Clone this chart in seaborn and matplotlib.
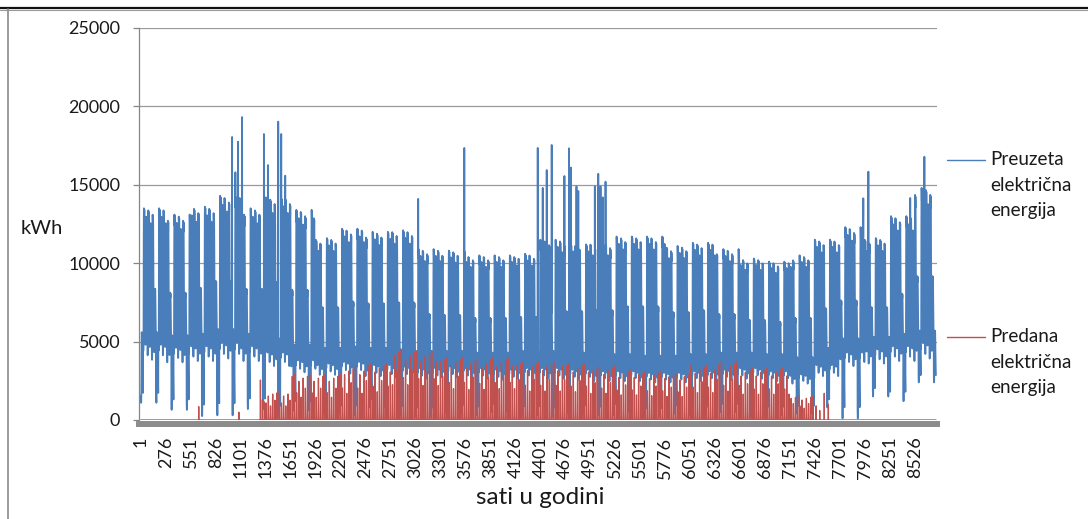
import matplotlib
matplotlib.use("Agg")
import matplotlib.pyplot as plt
import numpy as np
import pandas as pd
import seaborn as sns
from matplotlib.lines import Line2D

# category labels on the x axis (Excel shows every 275th hour)
hour_labels = [1, 276, 551, 826, 1101, 1376, 1651, 1926, 2201, 2476, 2751, 3026,
               3301, 3576, 3851, 4126, 4401, 4676, 4951, 5226, 5501, 5776, 6051,
               6326, 6601, 6876, 7151, 7426, 7701, 7976, 8251, 8526]

# values, one per 275-hour block (between two x labels)
peak_kwh = [13500, 13100, 13600, 14300, 13500, 14200, 13400, 11600, 12200, 12000,
            12100, 10900, 10800, 10500, 10500, 10600, 11500, 11200, 11300, 11700,
            11700, 11100, 11300, 10900, 10300, 10100, 10500, 11500, 12300, 11600,
            13000, 14800]
base_kwh = [4800, 4600, 4700, 4900, 4700, 4300, 3800, 3600, 3700, 3500, 3400, 3300,
            3400, 3300, 3200, 3300, 3300, 3200, 3100, 3100, 3000, 3000, 3100, 3200,
            3300, 3100, 2900, 3500, 4300, 4500, 4700, 4900]
sunday_peak_kwh = [5600, 5400, 5500, 5800, 5500, 5200, 4800, 4600, 4700, 4600, 4500,
                   4400, 4400, 4300, 4300, 4400, 4400, 4300, 4200, 4200, 4100, 4100,
                   4200, 4300, 4300, 4200, 4000, 4600, 5200, 5300, 5500, 5700]
dip_kwh = [1100, 650, 250, 300, 700, 200, 600, 400, 300, 800, 300, 200, 400, 300, 500,
           300, 200, 400, 300, 500, 200, 400, 300, 500, 200, 300, 400, 800, 100, 1500,
           1200, 2400]

# day-of-week differences (sunday first): share of the block peak and of the night low
week_peak_share = [0.0, 1.0, 0.96, 0.99, 0.93, 0.97, 0.62]
week_low_share = [0.0, 0.92, 1.0, 0.86, 0.97, 0.8, 0.9]

# typical day, share of the swing from night low to day peak
day_shape = [0.10, 0.04, 0.0, 0.0, 0.04, 0.18, 0.45, 0.78, 0.95, 1.0, 0.98, 0.96,
             0.92, 0.95, 0.99, 0.94, 0.85, 0.72, 0.58, 0.48, 0.38, 0.28, 0.20, 0.14]

# single hours that stick out of the blue envelope
spike_hours = [1006, 1042, 1072, 1116, 1356, 1400, 1514, 1547, 1591, 3056, 3564,
               4373, 4428, 4472, 4527, 4667, 4718, 4740, 4800, 4820, 5002, 5040,
               5065, 5090, 5120, 7960, 8016, 8477, 8633]
spike_kwh = [18050, 15800, 17750, 19320, 18240, 16260, 19030, 18240, 15580, 14100,
             17350, 17350, 14800, 15940, 17540, 15560, 17330, 16100, 14900, 14600,
             14900, 15700, 14900, 14200, 15200, 14140, 15840, 14160, 16790]

# exported energy, daily midday peak per block
export_kwh = [0, 0, 0, 0, 0, 1800, 2900, 2900, 3400, 3600, 4500, 4400, 4000, 3900,
              4000, 3700, 3700, 3600, 3400, 3200, 3100, 3000, 3500, 3700, 3300, 3300,
              1500, 0, 0, 0, 0, 0]
export_week_share = [1.0, 0.6, 0.85, 0.5, 0.92, 0.7, 0.96]
export_day_shape = [0, 0, 0, 0, 0, 0, 0, 0, 0, 0.15, 0.5, 0.85, 1.0, 0.85, 0.5, 0.15,
                    0, 0, 0, 0, 0, 0, 0, 0]
export_spike_hours = [638, 1080, 1318, 1340, 1362, 7440, 7480, 7530, 7575]
export_spike_kwh = [850, 500, 2550, 1300, 1150, 900, 600, 1700, 1000]

BLUE = "#4a7ebb"
RED = "#c0504d"
TEXT = "#1a1a1a"


def build_series():
    hours = np.arange(1, 8761)
    block = np.minimum((hours - 1) // 275, len(peak_kwh) - 1)
    day = (hours - 1) // 24
    hod = (hours - 1) % 24
    wd = day % 7  # 0 = sunday
    shape = np.array(day_shape)[hod]

    low = np.array(base_kwh)[block] * np.array(week_low_share)[wd]
    high = np.array(peak_kwh)[block] * np.array(week_peak_share)[wd]
    high = np.maximum(high, low)
    sun_low = np.array(dip_kwh)[block]
    sun_high = np.array(sunday_peak_kwh)[block]

    weekday = low + (high - low) * shape
    sunday = sun_low + (sun_high - sun_low) * shape
    taken = np.where(wd == 0, sunday, weekday)
    taken[np.array(spike_hours) - 1] = spike_kwh

    given = (np.array(export_kwh)[block] * np.array(export_week_share)[wd]
             * np.array(export_day_shape)[hod])
    given[np.array(export_spike_hours) - 1] = export_spike_kwh

    return pd.DataFrame({"sat": hours, "preuzeta": taken, "predana": given})


def plot(df, save_path):
    sns.set_theme(style="white")
    plt.rcParams["font.family"] = ["Lato", "DejaVu Sans"]
    plt.rcParams["path.simplify"] = False

    fig = plt.figure(figsize=(10.88, 5.19), dpi=100)
    ax = fig.add_axes([139 / 1088, 1 - 420 / 519, 798 / 1088, 392 / 519])

    sns.lineplot(data=df, x="sat", y="preuzeta", color=BLUE, lw=1.3,
                 estimator=None, legend=False, ax=ax)
    sns.lineplot(data=df, x="sat", y="predana", color=RED, lw=0.95,
                 estimator=None, legend=False, ax=ax)

    ax.set_xlim(-20, 8772)
    ax.set_ylim(0, 25000)
    ax.set_yticks(range(0, 25001, 5000))
    ax.set_xticks(hour_labels)
    ax.set_xticklabels([str(h) for h in hour_labels])
    ax.set_xlabel("")
    ax.set_ylabel("")
    ax.grid(axis="y", color="#9a9a9a", lw=0.9)
    ax.set_axisbelow(True)

    for side in ["top", "right"]:
        ax.spines[side].set_visible(False)
    ax.spines["left"].set_color("#868686")
    ax.spines["left"].set_linewidth(0.9)
    ax.spines["bottom"].set_color("#8c8c8c")
    ax.spines["bottom"].set_linewidth(4.3)
    ax.spines["bottom"].set_position(("outward", 2.9))

    ax.tick_params(axis="y", length=4.5, width=0.9, color="#868686", pad=9,
                   labelsize=13, labelcolor=TEXT, left=True)
    ax.tick_params(axis="x", length=0, pad=9, labelsize=13, labelcolor=TEXT,
                   labelrotation=90)

    fig.text(42 / 1088, 1 - 228 / 519, "kWh", ha="center", va="center",
             fontsize=14.5, color=TEXT)
    fig.text(540 / 1088, 1 - 497 / 519, "sati u godini", ha="center", va="center",
             fontsize=17.5, color=TEXT)

    # legend, drawn by hand to match the Excel layout
    entries = [(BLUE, 160, ["Preuzeta", "električna", "energija"]),
               (RED, 337, ["Predana", "električna", "energija"])]
    for color, y0, lines in entries:
        fig.add_artist(Line2D([947 / 1088, 985 / 1088], [1 - y0 / 519] * 2,
                              color=color, lw=1.0))
        for i, txt in enumerate(lines):
            fig.text(990 / 1088, 1 - (y0 + 25.5 * i) / 519, txt, ha="left",
                     va="center", fontsize=13.6, color=TEXT)

    # page frame of the source document
    fig.add_artist(Line2D([0, 1], [1 - 7.5 / 519] * 2, color="#111111", lw=1.6))
    fig.add_artist(Line2D([0, 1], [1 - 9.5 / 519] * 2, color="#9a9a9a", lw=0.8))
    fig.add_artist(Line2D([8 / 1088] * 2, [0, 1 - 9 / 519], color="#8a8a8a", lw=1.2))

    fig.savefig(save_path, dpi=100)
    plt.close(fig)


if __name__ == "__main__":
    plot(build_series(), "out.png")
